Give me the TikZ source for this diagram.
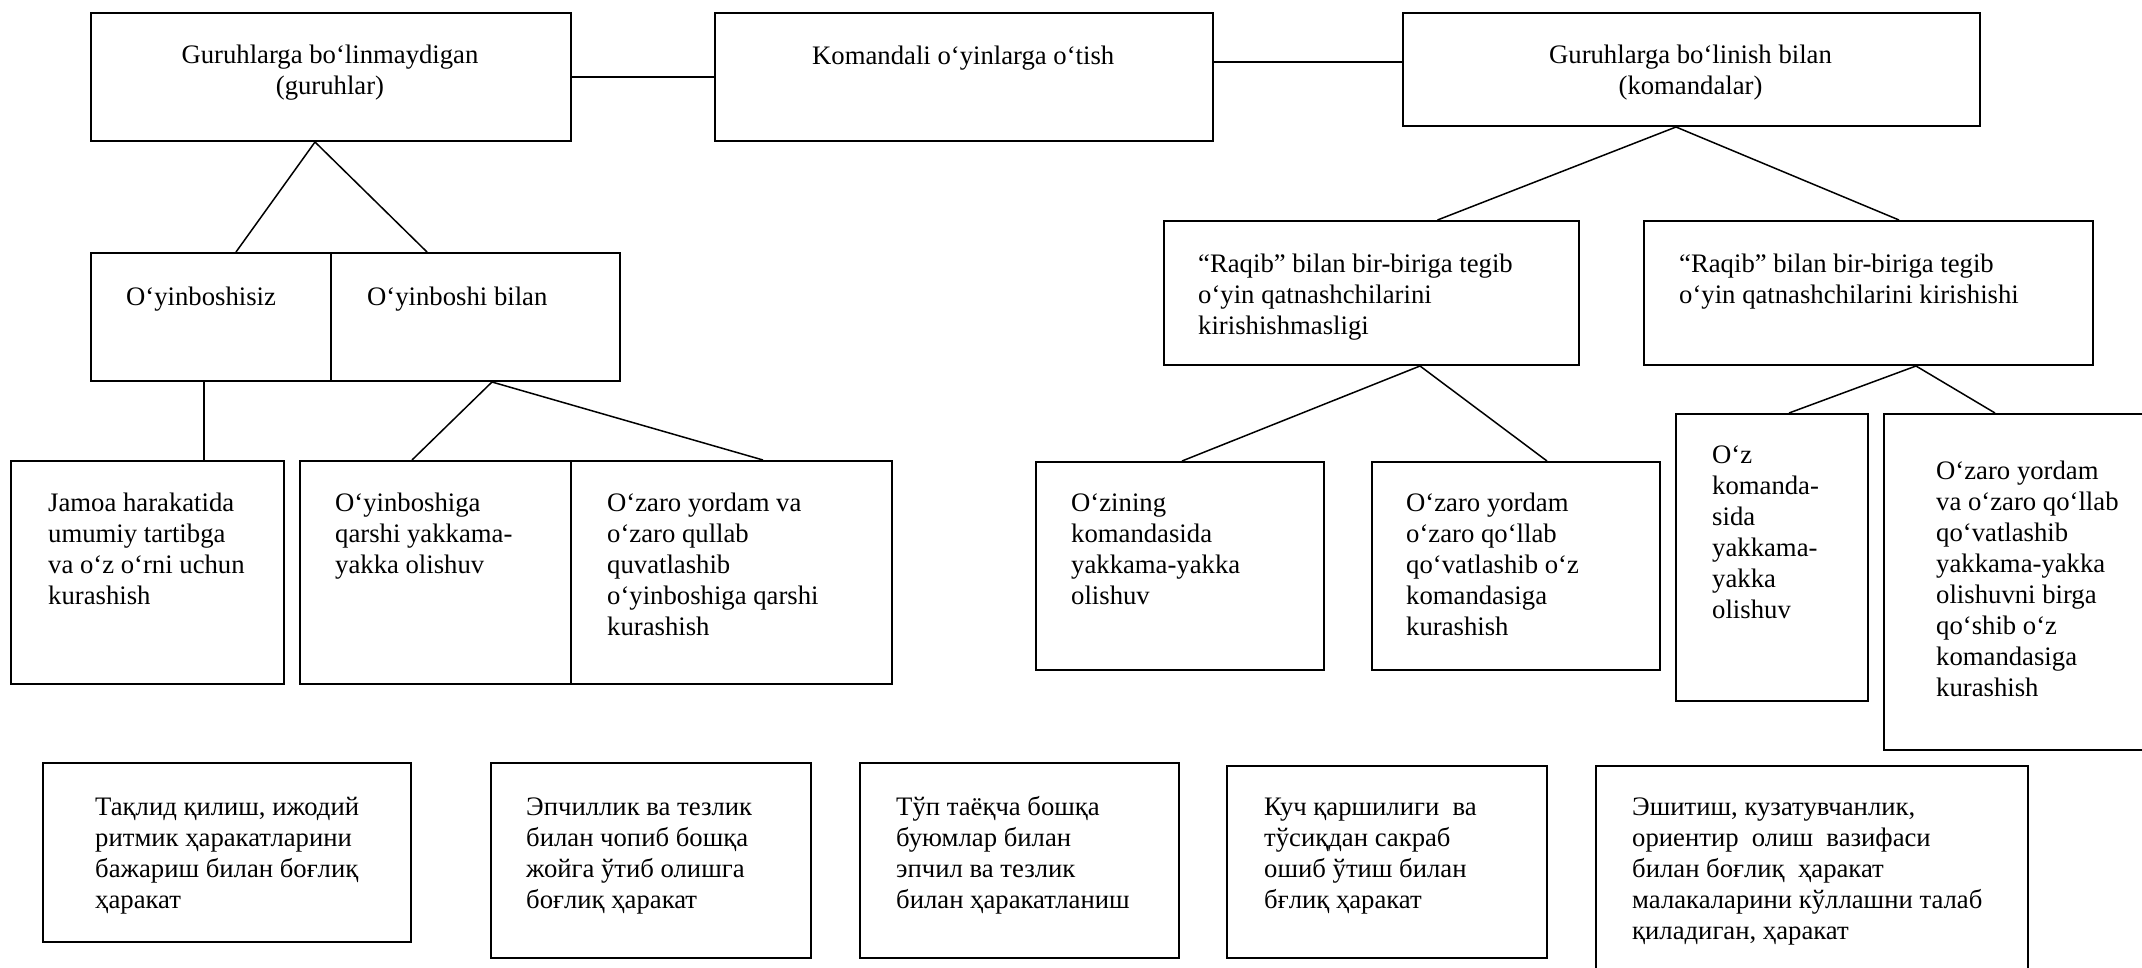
\documentclass[tikz,border=0pt]{standalone}
\usepackage{fontspec}
\setmainfont{Liberation Serif}
\usetikzlibrary{calc}
\begin{document}
\begin{tikzpicture}[x=1pt,y=-1pt,
  box/.style={draw, line width=2pt, inner sep=0pt, anchor=north west},
  txt/.style={inner sep=0pt, anchor=north west, align=left, font=\fontsize{26.7}{31}\selectfont},
  ctxt/.style={inner sep=0pt, anchor=north, align=center, font=\fontsize{26.7}{31}\selectfont},
  link/.style={line width=1.5pt}]
\useasboundingbox (0,0) rectangle (2142,967);
\clip (0,0) rectangle (2142,967);

% top row
\node[box, minimum width=480pt, minimum height=128pt] (A) at (90,12) {};
\node[box, minimum width=498pt, minimum height=128pt] (K) at (714,12) {};
\node[box, minimum width=577pt, minimum height=113pt] (C) at (1402,12) {};
\node[ctxt] (tA) at (330,41.3) {\strut Guruhlarga bo‘linmaydigan\\(guruhlar)};
\node[txt] (tK) at (812,42.3) {\strut Komandali o‘yinlarga o‘tish};
\node[ctxt] (tC) at (1690.5,41.3) {\strut Guruhlarga bo‘linish bilan\\(komandalar)};

% second row left
\node[box, minimum width=240pt, minimum height=128pt] (B1) at (90,252) {};
\node[box, minimum width=289pt, minimum height=128pt] (B2) at (330,252) {};
\node[txt] (tB1) at (126,283.3) {\strut O‘yinboshisiz};
\node[txt] (tB2) at (367,283.3) {\strut O‘yinboshi bilan};

% second row right
\node[box, minimum width=415pt, minimum height=144pt] (D) at (1163,220) {};
\node[box, minimum width=449pt, minimum height=144pt] (E) at (1643,220) {};
\node[txt] (tD) at (1198,250.3) {\strut “Raqib” bilan bir-biriga tegib\\o‘yin qatnashchilarini\\kirishishmasligi};
\node[txt] (tE) at (1679,250.3) {\strut “Raqib” bilan bir-biriga tegib\\o‘yin qatnashchilarini kirishishi};

% third row left
\node[box, minimum width=273pt, minimum height=223pt] (J) at (10,460) {};
\node[box, minimum width=271pt, minimum height=223pt] (P1) at (299,460) {};
\node[box, minimum width=321pt, minimum height=223pt] (P2) at (570,460) {};
\node[txt] (tJ) at (48,489.3) {\strut Jamoa harakatida\\umumiy tartibga\\va o‘z o‘rni uchun\\kurashish};
\node[txt] (tP1) at (335,489.3) {\strut O‘yinboshiga\\qarshi yakkama-\\yakka olishuv};
\node[txt] (tP2) at (607,489.3) {\strut O‘zaro yordam va\\o‘zaro qullab\\quvatlashib\\o‘yinboshiga qarshi\\kurashish};

% third row right
\node[box, minimum width=288pt, minimum height=208pt] (F1) at (1035,461) {};
\node[box, minimum width=288pt, minimum height=208pt] (F2) at (1371,461) {};
\node[box, minimum width=192pt, minimum height=287pt] (G1) at (1675,413) {};
\node[box, minimum width=282pt, minimum height=336pt] (G2) at (1883,413) {};
\node[txt] (tF1) at (1071,489.3) {\strut O‘zining\\komandasida\\yakkama-yakka\\olishuv};
\node[txt] (tF2) at (1406,489.3) {\strut O‘zaro yordam\\o‘zaro qo‘llab\\qo‘vatlashib o‘z\\komandasiga\\kurashish};
\node[txt] (tG1) at (1712,441.3) {\strut O‘z\\komanda-\\sida\\yakkama-\\yakka\\olishuv};
\node[txt] (tG2) at (1936,457.3) {\strut O‘zaro yordam\\va o‘zaro qo‘llab\\qo‘vatlashib\\yakkama-yakka\\olishuvni birga\\qo‘shib o‘z\\komandasiga\\kurashish};

% bottom row
\node[box, minimum width=368pt, minimum height=179pt] (T1) at (42,762) {};
\node[box, minimum width=320pt, minimum height=195pt] (T2) at (490,762) {};
\node[box, minimum width=319pt, minimum height=195pt] (T3) at (859,762) {};
\node[box, minimum width=320pt, minimum height=192pt] (T4) at (1226,765) {};
\node[box, minimum width=432pt, minimum height=240pt] (T5) at (1595,765) {};
\node[txt] (tT1) at (95,793.3) {\strut Тақлид қилиш, ижодий\\ритмик ҳаракатларини\\бажариш билан боғлиқ\\ҳаракат};
\node[txt] (tT2) at (526,793.3) {\strut Эпчиллик ва тезлик\\билан чопиб бошқа\\жойга ўтиб олишга\\боғлиқ ҳаракат};
\node[txt] (tT3) at (896,793.3) {\strut Тўп таёқча бошқа\\буюмлар билан\\эпчил ва тезлик\\билан ҳаракатланиш};
\node[txt] (tT4) at (1264,793.3) {\strut Куч қаршилиги\ \ ва\\тўсиқдан сакраб\\ошиб ўтиш билан\\бғлиқ ҳаракат};
\node[txt] (tT5) at (1632,793.3) {\strut Эшитиш, кузатувчанлик,\\ориентир\ \ олиш\ \ вазифаси\\билан боғлиқ\ \ ҳаракат\\малакаларини кўллашни талаб\\қиладиган, ҳаракат};

% connectors
\draw[link] (A.east) -- (K.west);
\draw[link] ([yshift=15pt]K.east) -- ([yshift=15pt]K.east -| C.west);
\draw[link] ([xshift=25pt]B1.north) -- ([xshift=-16pt]A.south) -- ([xshift=-48.5pt]B2.north);
\draw[link] ([xshift=-7pt]B1.south) -- ([xshift=-7pt]B1.south |- J.north);
\draw[link] ([xshift=-23.5pt]P1.north) -- ([xshift=16.5pt]B2.south) -- ([xshift=31.5pt]P2.north);
\draw[link] ([xshift=66pt]D.north) -- ([xshift=-15.5pt]C.south) -- ([xshift=30.5pt]E.north);
\draw[link] ([xshift=2pt]F1.north) -- ([xshift=48.5pt]D.south) -- ([xshift=31pt]F2.north);
\draw[link] ([xshift=17pt]G1.north) -- ([xshift=47.5pt]E.south) -- ([xshift=-30pt]G2.north);
\end{tikzpicture}
\end{document}
